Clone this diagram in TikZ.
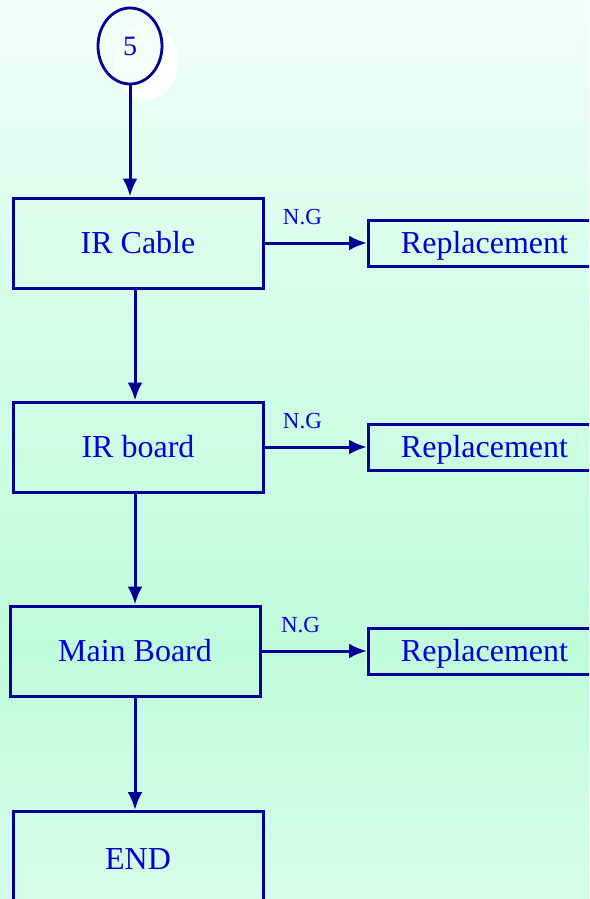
\documentclass[tikz,border=0pt]{standalone}
\usepackage{fontspec}
\setmainfont{Liberation Serif}
\usetikzlibrary{arrows.meta,shapes.geometric}
\definecolor{linie}{RGB}{0,0,150}
\definecolor{schrift}{RGB}{0,0,210}
\definecolor{bgtop}{RGB}{242,255,249}
\definecolor{bgmid}{RGB}{192,252,220}
\definecolor{bgbot}{RGB}{214,252,232}
\tikzset{
	stepbox/.style={rectangle, draw=linie, line width=1.5pt, text=schrift,
		minimum width=125pt, minimum height=45pt, text height=11pt, text depth=0.5pt,
		font=\fontsize{16}{18}\selectfont},
	replbox/.style={rectangle, draw=linie, line width=1.5pt, text=schrift,
		minimum width=116pt, minimum height=23pt, text height=11pt, text depth=0.5pt, inner sep=0pt,
		font=\fontsize{16}{18}\selectfont},
	ng/.style={text=schrift, font=\fontsize{11.5}{13}\selectfont},
	pfeil/.style={draw=linie, line width=1.5pt, -{Latex[length=9pt,width=7.5pt]}}
}
\begin{document}
\begin{tikzpicture}[x=0.5pt,y=-0.5pt]
	\useasboundingbox (0,0) rectangle (589,899);
	\clip (0,0) rectangle (589,899);
	\shade[top color=bgtop, bottom color=bgmid, middle color={bgtop!40!bgmid}] (0,0) rectangle (589,650);
	\shade[top color=bgmid, bottom color=bgbot] (0,650) rectangle (589,899);
	% start
	\node (s) at (146,62) [ellipse, fill=white, minimum width=32pt, minimum height=38pt, text=white, font=\fontsize{14}{16}\selectfont] {5};
	\node (5) at (130,46) [ellipse, draw=linie, line width=1.4pt, fill=bgtop, fill opacity=0.6, text opacity=1, text=schrift,
		minimum width=32pt, minimum height=38pt, font=\fontsize{14}{16}\selectfont] {5};
	% checks
	\node (cable) at (138,243) [stepbox] {IR Cable};
		\node (r1) at (484.5,243) [replbox] {Replacement};
	\node (board) at (138,447) [stepbox] {IR board};
		\node (r2) at (484.5,447) [replbox] {Replacement};
	\node (main) at (135,651) [stepbox] {Main Board};
		\node (r3) at (484.5,651) [replbox] {Replacement};
	\node (end) at (138,810) [stepbox, minimum height=47pt, anchor=north] {END};
	% flow
	\draw[pfeil] (5) -- (cable.north -| 5);
	\draw[pfeil] (cable.south -| 135,0) -- (board.north -| 135,0);
	\draw[pfeil] (board.south -| 135,0) -- (main.north -| 135,0);
	\draw[pfeil] (main.south -| 135,0) -- (end.north -| 135,0);
	\draw[pfeil] (cable) -- node [ng, above, pos=0.37, yshift=5pt] {N.G} (r1);
	\draw[pfeil] (board) -- node [ng, above, pos=0.37, yshift=5pt] {N.G} (r2);
	\draw[pfeil] (main) -- node [ng, above, pos=0.37, yshift=5pt] {N.G} (r3);
\end{tikzpicture}
\end{document}
